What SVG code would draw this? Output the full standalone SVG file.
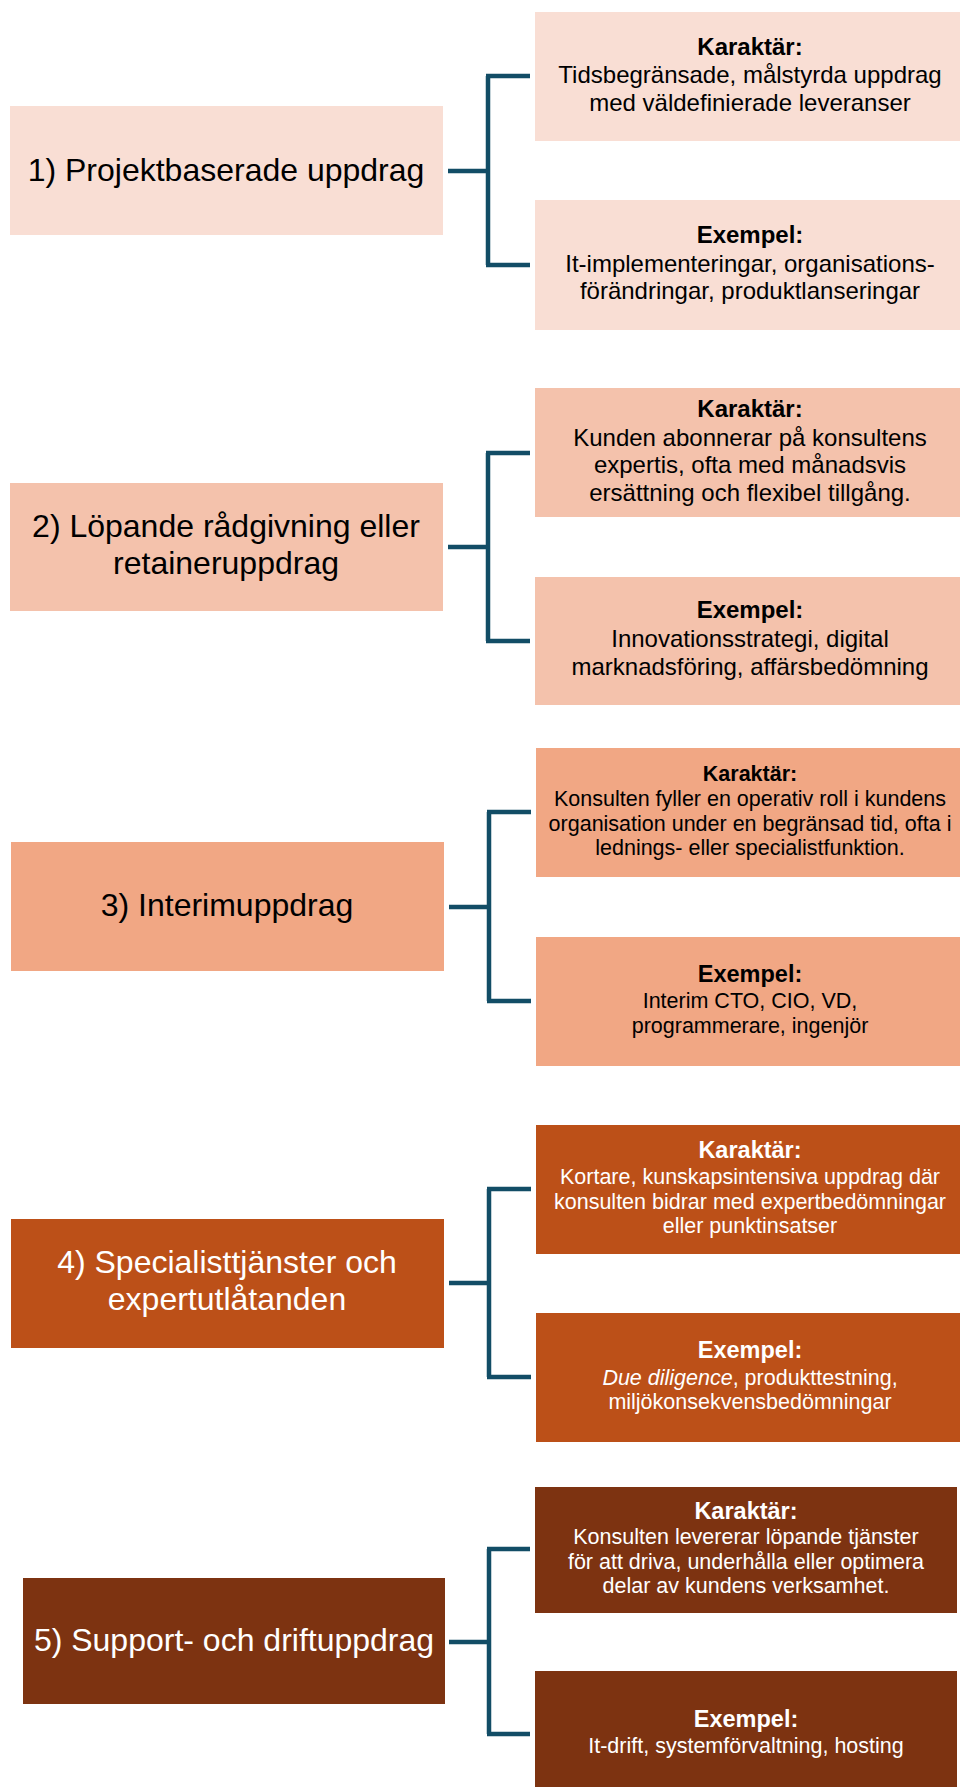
<svg xmlns="http://www.w3.org/2000/svg" width="960" height="1789" viewBox="0 0 960 1789">
<style>
text{font-family:"Liberation Sans",Arial,sans-serif;text-anchor:middle}
.main{font-size:32px}
.b1{font-size:24px}
.b2{font-size:21.5px}
.h{font-weight:bold}
.dark{fill:#000}
.light{fill:#fff}
.c1{fill:#F9DED4}
.c2{fill:#F4C2AC}
.c3{fill:#F1A784}
.c4{fill:#BC5018}
.c5{fill:#7D3311}
.conn{fill:none;stroke:#124D66;stroke-width:4.5}
</style>
<rect width="960" height="1789" fill="#fff"/>
<g id="connectors">
<path class="conn" d="M448 171H488M488 76V265M486 76H530M486 265H530"/>
<path class="conn" d="M448 547H488M488 453V641M486 453H530M486 641H530"/>
<path class="conn" d="M449 907H489M489 812V1001M487 812H531M487 1001H531"/>
<path class="conn" d="M449 1283H489M489 1189V1377M487 1189H531M487 1377H531"/>
<path class="conn" d="M449 1642H489M489 1549V1734M487 1549H530M487 1734H530"/>
</g>
<g id="n1">
<rect class="c1" x="10" y="106" width="433" height="129"/>
<text class="main dark" x="226" y="181">1) Projektbaserade uppdrag</text>
</g>
<g id="n1a">
<rect class="c1" x="535" y="12" width="425" height="129"/>
<text class="b1 dark"><tspan class="h" x="750" y="55">Karaktär:</tspan><tspan x="750" y="83">Tidsbegränsade, målstyrda uppdrag</tspan><tspan x="750" y="111">med väldefinierade leveranser</tspan></text>
</g>
<g id="n1b">
<rect class="c1" x="535" y="200" width="425" height="130"/>
<text class="b1 dark"><tspan class="h" x="750" y="243">Exempel:</tspan><tspan x="750" y="272">It-implementeringar, organisations-</tspan><tspan x="750" y="299">förändringar, produktlanseringar</tspan></text>
</g>
<g id="n2">
<rect class="c2" x="10" y="483" width="433" height="128"/>
<text class="main dark"><tspan x="226" y="537">2) Löpande rådgivning eller</tspan><tspan x="226" y="574">retaineruppdrag</tspan></text>
</g>
<g id="n2a">
<rect class="c2" x="535" y="388" width="425" height="129"/>
<text class="b1 dark"><tspan class="h" x="750" y="417">Karaktär:</tspan><tspan x="750" y="446">Kunden abonnerar på konsultens</tspan><tspan x="750" y="473">expertis, ofta med månadsvis</tspan><tspan x="750" y="501">ersättning och flexibel tillgång.</tspan></text>
</g>
<g id="n2b">
<rect class="c2" x="535" y="577" width="425" height="128"/>
<text class="b1 dark"><tspan class="h" x="750" y="618">Exempel:</tspan><tspan x="750" y="647">Innovationsstrategi, digital</tspan><tspan x="750" y="675">marknadsföring, affärsbedömning</tspan></text>
</g>
<g id="n3">
<rect class="c3" x="11" y="842" width="433" height="129"/>
<text class="main dark" x="227" y="916">3) Interimuppdrag</text>
</g>
<g id="n3a">
<rect class="c3" x="536" y="748" width="424" height="129"/>
<text class="b2 dark"><tspan class="h" x="750" y="781">Karaktär:</tspan><tspan x="750" y="806">Konsulten fyller en operativ roll i kundens</tspan><tspan x="750" y="831">organisation under en begränsad tid, ofta i</tspan><tspan x="750" y="855">lednings- eller specialistfunktion.</tspan></text>
</g>
<g id="n3b">
<rect class="c3" x="536" y="937" width="424" height="129"/>
<text class="b2 dark"><tspan class="h" x="750" y="982" style="font-size:23.5px">Exempel:</tspan><tspan x="750" y="1008">Interim CTO, CIO, VD,</tspan><tspan x="750" y="1033">programmerare, ingenjör</tspan></text>
</g>
<g id="n4">
<rect class="c4" x="11" y="1219" width="433" height="129"/>
<text class="main light"><tspan x="227" y="1273">4) Specialisttjänster och</tspan><tspan x="227" y="1310">expertutlåtanden</tspan></text>
</g>
<g id="n4a">
<rect class="c4" x="536" y="1125" width="424" height="129"/>
<text class="b2 light"><tspan class="h" x="750" y="1158" style="font-size:23.5px">Karaktär:</tspan><tspan x="750" y="1184">Kortare, kunskapsintensiva uppdrag där</tspan><tspan x="750" y="1209">konsulten bidrar med expertbedömningar</tspan><tspan x="750" y="1233">eller punktinsatser</tspan></text>
</g>
<g id="n4b">
<rect class="c4" x="536" y="1313" width="424" height="129"/>
<text class="b2 light"><tspan class="h" x="750" y="1358" style="font-size:23.5px">Exempel:</tspan><tspan x="750" y="1385"><tspan font-style="italic">Due diligence</tspan>, produkttestning,</tspan><tspan x="750" y="1409">miljökonsekvensbedömningar</tspan></text>
</g>
<g id="n5">
<rect class="c5" x="23" y="1578" width="422" height="126"/>
<text class="main light" x="234" y="1651">5) Support- och driftuppdrag</text>
</g>
<g id="n5a">
<rect class="c5" x="535" y="1487" width="422" height="126"/>
<text class="b2 light"><tspan class="h" x="746" y="1519" style="font-size:23.5px">Karaktär:</tspan><tspan x="746" y="1544">Konsulten levererar löpande tjänster</tspan><tspan x="746" y="1569">för att driva, underhålla eller optimera</tspan><tspan x="746" y="1593">delar av kundens verksamhet.</tspan></text>
</g>
<g id="n5b">
<rect class="c5" x="535" y="1671" width="422" height="116"/>
<text class="b2 light"><tspan class="h" x="746" y="1727" style="font-size:23.5px">Exempel:</tspan><tspan x="746" y="1753">It-drift, systemförvaltning, hosting</tspan></text>
</g>
</svg>
